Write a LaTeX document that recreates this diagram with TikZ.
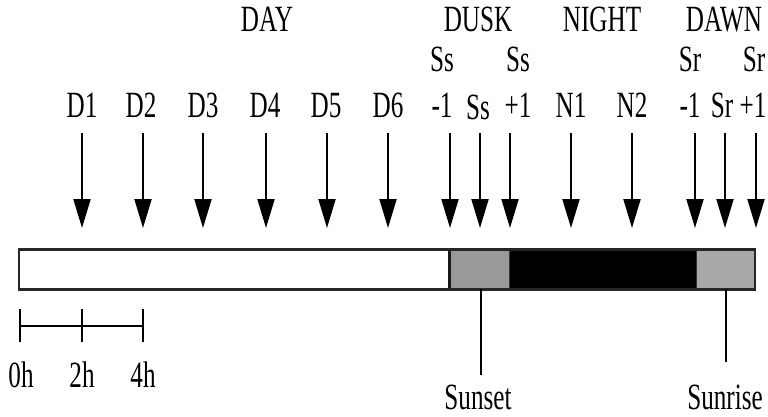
\documentclass[tikz,border=0pt]{standalone}
\usepackage{fontspec}
\setmainfont{Liberation Serif}[FakeStretch=0.68]
\usetikzlibrary{arrows.meta}
\definecolor{duskgray}{HTML}{999999}
\definecolor{dawngray}{HTML}{A8A8A8}
\begin{document}
\begin{tikzpicture}[x=1pt,y=-1pt,
  lbl/.style={font=\fontsize{37}{42}\selectfont, inner sep=0pt, anchor=base},
  arr/.style={line width=2pt, -{Triangle[length=29pt,width=17pt]}},
  seg/.style={draw=black!80, line width=0.8pt, inner sep=0pt, minimum height=39pt},
  thin/.style={line width=2pt}]
\useasboundingbox (0,0) rectangle (768,417);

% bar
\node[seg, fill=white, minimum width=430pt] (day) at (234,269.5) {};
\node[seg, fill=duskgray, minimum width=60pt] (dusk) at (479,269.5) {};
\node[seg, fill=black, minimum width=187pt] (night) at (602.5,269.5) {};
\node[seg, fill=dawngray, minimum width=58pt] (dawn) at (725.5,269.5) {};
\draw[line width=2.5pt, black!90] (day.north east) -- (day.south east);
\node[draw=black!85, line width=2.5pt, inner sep=0pt, minimum width=736pt, minimum height=40pt] (bar) at (387,269.5) {};

% arrows
\foreach \n/\x in {a1/82,a2/143,a3/203,a4/266,a5/327,a6/388,a7/450,a8/480,a9/510,a10/571,a11/632,a12/695,a13/725,a14/756}{
  \coordinate (\n t) at (\x,133);
  \coordinate (\n h) at (\x,228);
  \draw[arr] (\n t) -- (\n h);
}

% period labels
\node[lbl] (lday) at (267,32) {DAY};
\node[lbl] (ldusk) at (478,32) {DUSK};
\node[lbl] (lnight) at (602,32) {NIGHT};
\node[lbl] (ldawn) at (724,32) {DAWN};

% sample labels
\node[lbl] (ld1) at (82,118) {D1};
\node[lbl] (ld2) at (141,118) {D2};
\node[lbl] (ld3) at (203,118) {D3};
\node[lbl] (ld4) at (265,118) {D4};
\node[lbl] (ld5) at (326,118) {D5};
\node[lbl] (ld6) at (388,118) {D6};
\node[lbl] (lssm1a) at (442,72) {Ss};
\node[lbl] (lssm1b) at (442,118) {-1};
\node[lbl] (lss) at (478,120) {Ss};
\node[lbl] (lssp1a) at (518,72) {Ss};
\node[lbl] (lssp1b) at (518,118) {+1};
\node[lbl] (ln1) at (571,118) {N1};
\node[lbl] (ln2) at (632,118) {N2};
\node[lbl] (lsrm1a) at (690,72) {Sr};
\node[lbl] (lsrm1b) at (690,118) {-1};
\node[lbl] (lsr) at (722,118) {Sr};
\node[lbl] (lsrp1a) at (754,72) {Sr};
\node[lbl] (lsrp1b) at (753,118) {+1};

% sunset / sunrise
\coordinate (ssend) at (481,375);
\coordinate (srend) at (726,362);
\draw[thin] (481,289) -- (ssend);
\draw[thin] (726,289) -- (srend);
\node[lbl] (lsunset) at (478,409) {Sunset};
\node[lbl] (lsunrise) at (725,409) {Sunrise};

% time scale
\coordinate (s0) at (20,326);
\coordinate (s2) at (82,326);
\coordinate (s4) at (143,326);
\draw[thin] (s0) -- (s2) -- (s4);
\foreach \c in {s0,s2,s4}{ \draw[thin] ([yshift=-16pt]\c) -- ([yshift=17pt]\c); }
\node[lbl] (l0h) at (21,387) {0h};
\node[lbl] (l2h) at (82,387) {2h};
\node[lbl] (l4h) at (143,387) {4h};
\end{tikzpicture}
\end{document}
